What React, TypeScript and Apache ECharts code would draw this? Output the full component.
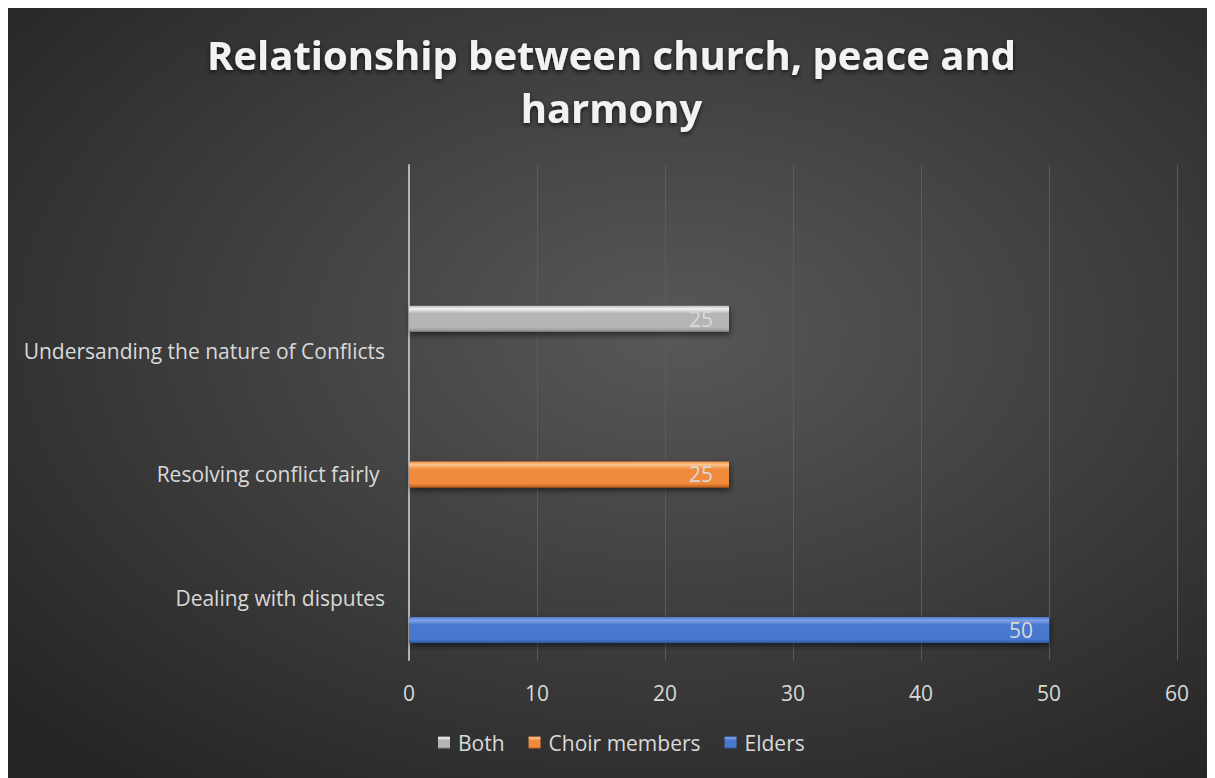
import React, { useEffect, useRef } from "react";
import * as echarts from "echarts";

const categories = ["Dealing with disputes", "Resolving conflict fairly ", "Undersanding the nature of Conflicts", ""];
const seriesNames = ["Both", "Choir members", "Elders"];
const bothValues = [null, null, 25, null];
const choirValues = [null, 25, null, null];
const elderValues = [50, null, null, null];
const xTicks = { min: 0, max: 60, interval: 10 };

const FONT = "'Open Sans', 'Noto Sans', sans-serif";

function bevel(top: string, mid: string, bottom: string) {
  return new echarts.graphic.LinearGradient(0, 0, 0, 1, [
    { offset: 0, color: mid },
    { offset: 0.12, color: top },
    { offset: 0.3, color: mid },
    { offset: 0.85, color: mid },
    { offset: 1, color: bottom },
  ]);
}

export default function App() {
  const ref = useRef<HTMLDivElement>(null);
  useEffect(() => {
    document.body.style.overflow = "hidden";
    const chart = echarts.init(ref.current!, undefined, { renderer: "svg" });
    const mk = (name: string, data: (number | null)[], color: any) => ({
      name,
      type: "bar",
      data,
      barWidth: 26,
      barGap: "23%",
      itemStyle: {
        color,
        shadowColor: "rgba(0,0,0,0.55)",
        shadowBlur: 6,
        shadowOffsetY: 3,
        shadowOffsetX: 1,
      },
      label: {
        show: true,
        position: "insideRight",
        distance: 16,
        color: "#d9d9d9",
        fontSize: 21,
        fontFamily: FONT,
        formatter: (p: any) => (p.value == null ? "" : String(p.value)),
      },
      emphasis: { disabled: true },
    });
    chart.setOption({
      animation: false,
      backgroundColor: {
        type: "radial",
        x: 0.55,
        y: 0.42,
        r: 0.75,
        colorStops: [
          { offset: 0, color: "#585858" },
          { offset: 1, color: "#242424" },
        ],
      },
      title: {
        text: "Relationship between church, peace and\nharmony",
        left: "center",
        top: 15,
        textStyle: {
          color: "#f2f2f2",
          fontSize: 40,
          fontWeight: "bold",
          fontFamily: FONT,
          lineHeight: 53,
          textShadowColor: "rgba(0,0,0,0.7)",
          textShadowBlur: 5,
          textShadowOffsetY: 2,
        },
      },
      legend: {
        data: seriesNames,
        bottom: 20,
        left: 425,
        icon: "rect",
        itemWidth: 12,
        itemHeight: 12,
        itemGap: 24,
        textStyle: { color: "#d9d9d9", fontSize: 21, fontFamily: FONT, padding: [0, 0, 0, 3] },
      },
      grid: { left: 401, right: 38, top: 157, bottom: 118, containLabel: false },
      xAxis: {
        type: "value",
        min: xTicks.min,
        max: xTicks.max,
        interval: xTicks.interval,
        axisLine: { show: false },
        axisTick: { show: false },
        axisLabel: { color: "#d9d9d9", fontSize: 21, fontFamily: FONT, margin: 22 },
        splitLine: { show: true, lineStyle: { color: "#5c5c5c", width: 1 } },
      },
      yAxis: {
        type: "category",
        data: categories,
        axisLine: { show: true, lineStyle: { color: "#b3b3b3", width: 2 } },
        axisTick: { show: false },
        axisLabel: { color: "#d9d9d9", fontSize: 21, fontFamily: FONT, margin: 24 },
        splitLine: { show: false },
      },
      series: [
        mk("Both", bothValues, bevel("#f4f4f4", "#b5b5b5", "#8a8a8a")),
        mk("Choir members", choirValues, bevel("#fdc58f", "#f08a3e", "#c25d17")),
        mk("Elders", elderValues, bevel("#7fa3e6", "#4a78cf", "#2f559b")),
      ],
    });
    return () => chart.dispose();
  }, []);
  return <div ref={ref} style={{ width: 1207, height: 770 }} />;
}
